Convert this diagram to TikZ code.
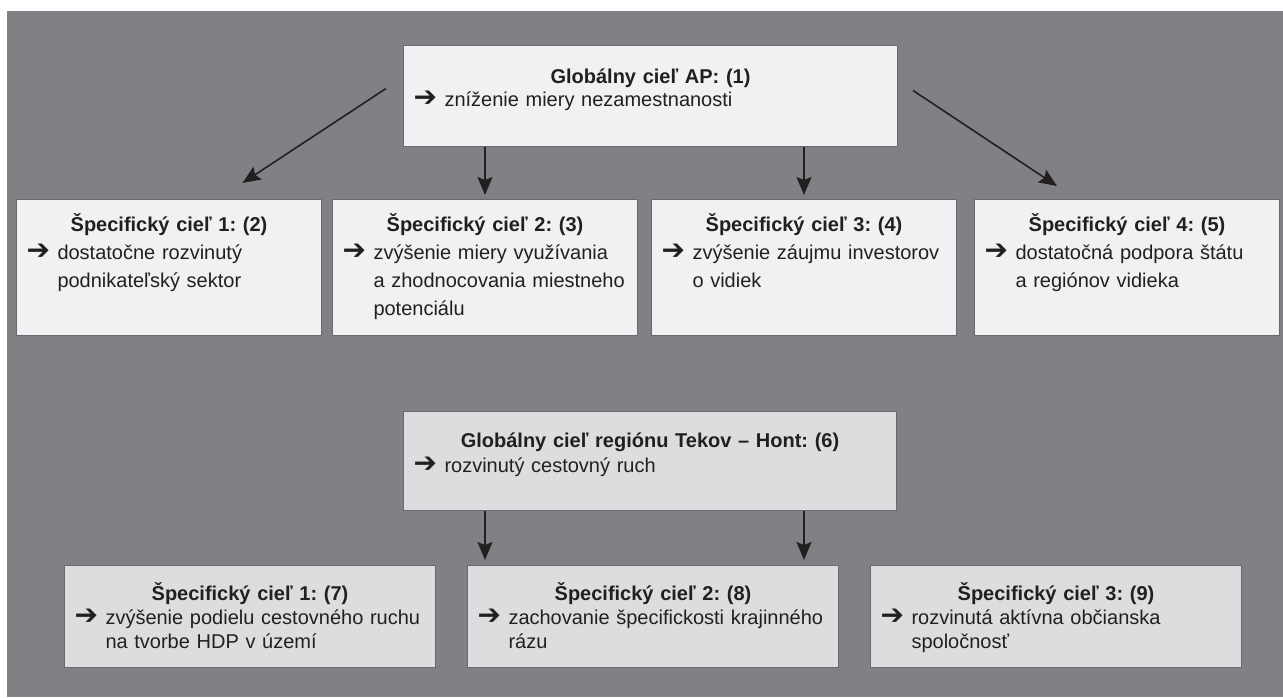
\documentclass[tikz,border=0pt]{standalone}
\usepackage{fontspec}
\setmainfont{Liberation Sans}
\newfontfamily\arrowfont{DejaVu Sans}
\frenchspacing
\definecolor{panelGray}{RGB}{128,129,133}
\definecolor{paleBox}{RGB}{240,241,243}
\definecolor{greyBox}{RGB}{220,221,223}
\definecolor{rimGray}{RGB}{105,106,110}
\definecolor{inkBlack}{RGB}{35,31,32}
\usetikzlibrary{arrows.meta}
\newcommand{\pointer}[1]{\makebox[15.5pt][l]{\arrowfont\bfseries\fontsize{14}{14}\selectfont ➔}%
  \parbox[t]{\dimexpr\linewidth-15.5pt}{\raggedright #1}}

\begin{document}
\begin{tikzpicture}[x=0.5pt, y=-0.5pt,
    goal/.style={draw=rimGray, line width=0.5pt, fill=paleBox, anchor=north west,
                 align=left, inner xsep=5pt, inner ysep=0pt, text=inkBlack},
    toprow/.style={goal, text width=142.5pt, text height=16pt, text depth=52pt,
                   font=\fontsize{10}{14}\selectfont},
    lowrow/.style={goal, fill=greyBox, text width=175.5pt, text height=17.5pt,
                   text depth=33.5pt, font=\fontsize{10}{12}\selectfont},
    link/.style={-{Stealth[length=9pt, width=7.5pt, inset=1.5pt]}, line width=0.8pt, inkBlack}
  ]
    \useasboundingbox (0,0) rectangle (1283,697);
    \fill[panelGray] (7,11) rectangle (1283,697);

    % global aim
    \node[goal, text width=237pt, text height=19pt, text depth=31.5pt,
          font=\fontsize{10}{11.5}\selectfont] (ap) at (403,45) {%
      {\centering\bfseries Globálny cieľ AP: (1)\par}%
      \pointer{zníženie miery nezamestnanosti}
    };

    \node[toprow] (s1) at (16,199) {%
      {\centering\bfseries Špecifický cieľ 1: (2)\par}%
      \pointer{dostatočne rozvinutý\\ podnikateľský sektor}
    };
    \node[toprow] (s2) at (332,199) {%
      {\centering\bfseries Špecifický cieľ 2: (3)\par}%
      \pointer{zvýšenie miery využívania\\ a zhodnocovania miestneho\\ potenciálu}
    };
    \node[toprow] (s3) at (651,199) {%
      {\centering\bfseries Špecifický cieľ 3: (4)\par}%
      \pointer{zvýšenie záujmu investorov\\ o vidiek}
    };
    \node[toprow] (s4) at (974,199) {%
      {\centering\bfseries Špecifický cieľ 4: (5)\par}%
      \pointer{dostatočná podpora štátu\\ a regiónov vidieka}
    };

    % regional aim
    \node[goal, fill=greyBox, text width=236.5pt, text height=18pt, text depth=31.5pt,
          font=\fontsize{10}{12.5}\selectfont] (reg) at (403,411) {%
      {\centering\bfseries Globálny cieľ regiónu Tekov -- Hont: (6)\par}%
      \pointer{rozvinutý cestovný ruch}
    };

    \node[lowrow] (c7) at (64,565) {%
      {\centering\bfseries Špecifický cieľ 1: (7)\par}%
      \pointer{zvýšenie podielu cestovného ruchu\\ na tvorbe HDP v území}
    };
    \node[lowrow] (c8) at (467,565) {%
      {\centering\bfseries Špecifický cieľ 2: (8)\par}%
      \pointer{zachovanie špecifickosti krajinného\\ rázu}
    };
    \node[lowrow] (c9) at (870,565) {%
      {\centering\bfseries Špecifický cieľ 3: (9)\par}%
      \pointer{rozvinutá aktívna občianska\\ spoločnosť}
    };

    \draw[link] ([shift={(-17,-7.5)}]ap.west) -- ([shift={(73.5,-16)}]s1.north);
    \draw[link, shorten >=2pt] (ap.south -| s2.north) -- (s2.north);
    \draw[link, shorten >=2pt] (ap.south -| s3.north) -- (s3.north);
    \draw[link] ([shift={(15,-5.5)}]ap.east) -- ([shift={(-70,-13)}]s4.north);

    \draw[link, shorten >=2.5pt] (reg.south -| s2.north) -- (c8.north -| s2.north);
    \draw[link, shorten >=2.5pt] (reg.south -| s3.north) -- (c8.north -| s3.north);
  \end{tikzpicture}
\end{document}
